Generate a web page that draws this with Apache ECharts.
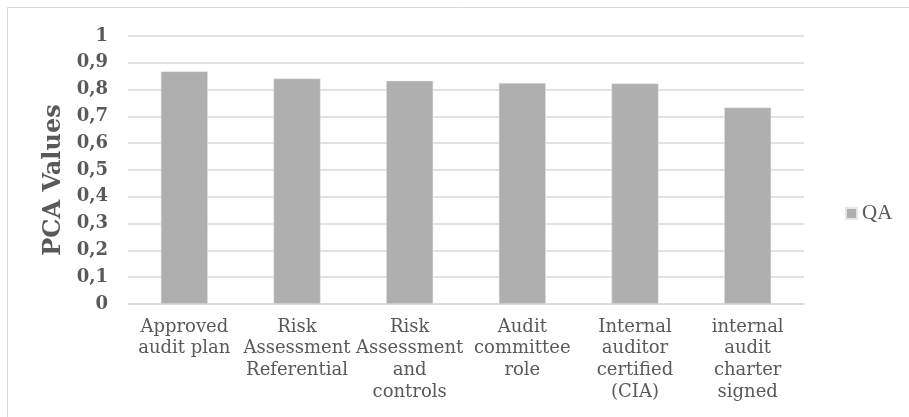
<!DOCTYPE html>
<html>
<head>
<meta charset="utf-8">
<script src="https://cdn.jsdelivr.net/npm/echarts@6/dist/echarts.min.js"></script>
<style>
  html, body { margin: 0; padding: 0; background: #fff; }
  #chart { width: 909px; height: 417px; }
</style>
</head>
<body>
<div id="chart"></div>
<script>
// 类目（含换行）
var categories = [
	'Approved\naudit plan',
	'Risk\nAssessment\nReferential',
	'Risk\nAssessment\nand\ncontrols',
	'Audit\ncommittee\nrole',
	'Internal\nauditor\ncertified\n(CIA)',
	'internal\naudit\ncharter\nsigned'
];
// QA 数值
var qaValues = [0.868, 0.841, 0.833, 0.825, 0.823, 0.733];
var seriesName = 'QA';
var axisTitle = 'PCA Values';

var chart = echarts.init(document.getElementById('chart'));

var option = {
	backgroundColor: '#fff',
	animation: false,
	graphic: [{
		type: 'rect',
		shape: { x: 7.5, y: 7.5, width: 1000, height: 500 },
		style: { fill: 'none', stroke: '#d9d9d9', lineWidth: 1 },
		silent: true
	}],
	grid: {
		left: 128,
		right: 105,
		top: 36,
		bottom: 113
	},
	legend: {
		data: [seriesName],
		left: 845,
		top: 203,
		padding: 0,
		itemWidth: 11,
		itemHeight: 11,
		itemGap: 5,
		icon: 'rect',
		textStyle: {
			fontFamily: 'Liberation Serif',
			fontSize: 21,
			color: '#595959'
		}
	},
	xAxis: {
		type: 'category',
		data: categories,
		axisLine: { lineStyle: { color: '#d9d9d9', width: 1.5 } },
		axisTick: { show: false },
		axisLabel: {
			interval: 0,
			margin: 12,
			fontFamily: 'DejaVu Serif',
			fontSize: 18,
			lineHeight: 21.7,
			color: '#595959'
		}
	},
	yAxis: {
		type: 'value',
		min: 0,
		max: 1,
		interval: 0.1,
		name: axisTitle,
		nameLocation: 'middle',
		nameGap: 59,
		nameTextStyle: {
			fontFamily: 'DejaVu Serif',
			fontWeight: 'bold',
			fontSize: 24,
			color: '#595959',
			padding: [0, 20, 0, 0]
		},
		axisLine: { show: false },
		axisTick: { show: false },
		splitLine: { lineStyle: { color: '#d9d9d9', width: 1.5 } },
		axisLabel: {
			margin: 20,
			fontFamily: 'DejaVu Serif',
			fontWeight: 'bold',
			fontSize: 18,
			color: '#595959',
			formatter: function (v) {
				if (v === 0 || v === 1) return String(v);
				return v.toFixed(1).replace('.', ',');
			}
		}
	},
	series: [{
		name: seriesName,
		type: 'bar',
		data: qaValues,
		barWidth: 47,
		itemStyle: {
			color: '#afafaf',
			borderColor: '#e6e6e6',
			borderWidth: 0.5
		}
	}]
};

chart.setOption(option);
</script>
</body>
</html>
